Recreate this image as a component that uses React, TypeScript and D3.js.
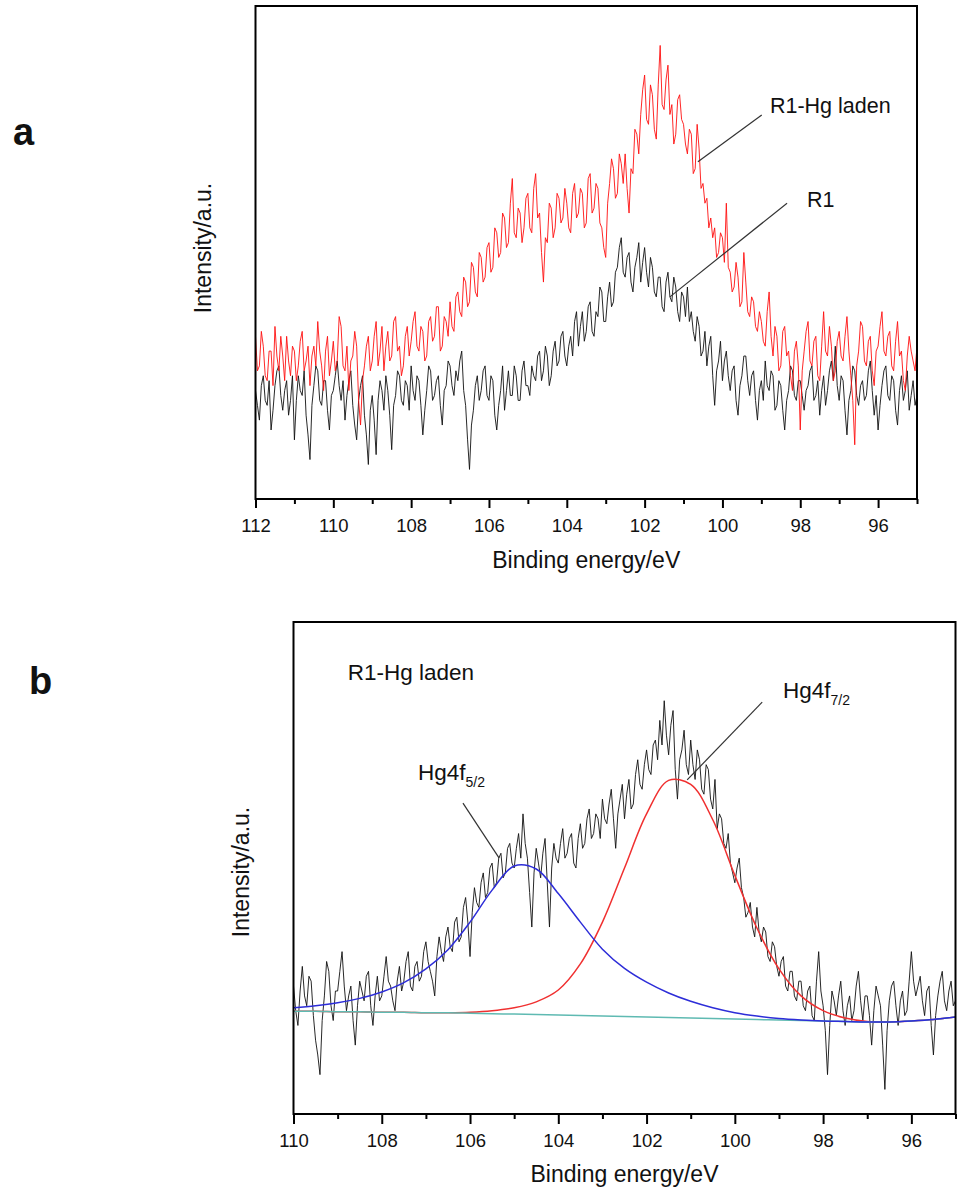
import React, { useEffect, useRef } from 'react'
import * as d3 from 'd3'

const FONT = '"Liberation Sans", Arial, sans-serif'

// ---- panel a : 112 -> 95 eV, 0.05 eV step
const energyA = d3.range(0, 341).map(i => +(112 - i * 0.05).toFixed(2))

const hgLaden = [
  33, 26, 27, 34, 31, 25, 24, 30, 30, 23, 35, 29, 26, 33, 29, 24, 33, 28, 25, 31,
  30, 24, 27, 32, 34, 26, 28, 31, 23, 29, 31, 27, 36, 30, 27, 22, 30, 33, 25, 28,
  32, 26, 28, 37, 35, 27, 26, 31, 22, 28, 29, 34, 31, 20, 15, 24, 27, 31, 33, 26,
  28, 33, 36, 27, 30, 35, 26, 31, 34, 28, 29, 36, 37, 30, 31, 25, 27, 33, 35, 29,
  32, 36, 38, 31, 30, 35, 34, 28, 29, 36, 37, 32, 33, 39, 39, 30, 31, 37, 36, 33,
  40, 35, 34, 41, 42, 38, 37, 45, 44, 39, 40, 48, 47, 42, 41, 50, 49, 44, 45, 51,
  52, 46, 47, 55, 54, 49, 50, 58, 57, 51, 52, 60, 65, 54, 53, 59, 58, 52, 55, 61,
  62, 55, 54, 63, 66, 57, 58, 50, 44, 53, 52, 60, 59, 53, 55, 62, 61, 56, 57, 63,
  60, 55, 54, 62, 64, 57, 58, 63, 62, 55, 56, 65, 66, 58, 59, 64, 63, 56, 55, 51,
  49, 60, 64, 69, 67, 61, 62, 70, 68, 64, 70, 63, 58, 67, 66, 75, 74, 70, 78, 83,
  86, 77, 76, 84, 82, 75, 73, 84, 92, 80, 79, 85, 88, 78, 80, 72, 74, 81, 82, 77,
  76, 72, 70, 75, 74, 66, 67, 76, 71, 63, 64, 60, 61, 55, 57, 53, 55, 49, 50, 54,
  53, 48, 60, 47, 46, 42, 43, 48, 45, 39, 40, 50, 44, 38, 37, 41, 40, 35, 34, 38,
  36, 32, 31, 38, 42, 33, 29, 35, 33, 26, 27, 34, 35, 29, 30, 25, 22, 30, 32, 27,
  14, 26, 30, 34, 36, 28, 27, 32, 33, 25, 24, 31, 38, 30, 29, 35, 31, 24, 26, 32,
  34, 29, 28, 33, 37, 30, 25, 20, 11, 27, 30, 36, 35, 28, 27, 32, 33, 26, 23, 30,
  31, 35, 38, 30, 29, 33, 34, 27, 26, 32, 36, 29, 30, 24, 22, 29, 33, 30, 28, 26,
  31,
]

const r1 = [
  22, 19, 16, 23, 25, 20, 19, 24, 14, 18, 23, 26, 27, 21, 18, 22, 24, 17, 20, 25,
  12, 20, 25, 22, 21, 26, 17, 13, 8, 19, 23, 27, 26, 20, 19, 24, 24, 18, 14, 21,
  22, 25, 28, 23, 20, 24, 16, 21, 24, 26, 19, 15, 12, 20, 23, 25, 17, 13, 7, 18,
  21, 16, 9, 20, 24, 22, 18, 25, 22, 17, 10, 19, 21, 26, 25, 20, 19, 24, 23, 18,
  27, 22, 20, 25, 24, 19, 13, 18, 22, 27, 26, 20, 21, 24, 25, 19, 15, 22, 23, 28,
  27, 23, 21, 26, 24, 28, 30, 22, 19, 12, 6, 15, 18, 23, 25, 20, 22, 26, 27, 21,
  20, 25, 24, 17, 14, 19, 22, 27, 18, 22, 26, 21, 21, 27, 25, 20, 20, 26, 28, 23,
  23, 21, 27, 25, 24, 29, 30, 24, 26, 31, 29, 23, 25, 30, 32, 27, 28, 33, 34, 29,
  27, 31, 33, 29, 36, 38, 31, 35, 38, 32, 34, 39, 40, 34, 33, 38, 37, 43, 42, 36,
  36, 41, 44, 39, 40, 46, 47, 51, 53, 46, 45, 49, 50, 44, 42, 47, 49, 52, 44, 48,
  51, 46, 43, 49, 47, 42, 41, 45, 45, 39, 38, 44, 46, 41, 40, 45, 43, 38, 36, 42,
  41, 37, 43, 36, 38, 34, 32, 37, 35, 29, 30, 34, 27, 31, 33, 25, 19, 26, 28, 32,
  24, 28, 30, 25, 22, 26, 27, 20, 17, 23, 25, 29, 29, 24, 21, 25, 26, 20, 16, 22,
  24, 20, 28, 23, 22, 26, 25, 18, 19, 24, 23, 18, 14, 20, 22, 27, 26, 21, 20, 24,
  24, 21, 18, 22, 23, 26, 27, 20, 21, 24, 17, 22, 25, 19, 22, 26, 28, 24, 31, 23,
  20, 25, 24, 18, 13, 20, 22, 27, 26, 21, 19, 23, 24, 20, 21, 26, 28, 22, 17, 21,
  14, 19, 23, 26, 27, 21, 20, 25, 24, 18, 15, 22, 25, 20, 22, 26, 18, 21, 24, 19,
  21,
]

// ---- panel b : Hg 4f fit, 110 -> 95 eV
const energyB = d3.range(0, 301).map(i => +(110 - i * 0.05).toFixed(2))

const hgLadenB = [
  26, 21, 18, 25, 30, 24, 22, 28, 27, 20, 15, 12, 8, 19, 24, 31, 29, 22, 19, 25,
  25, 29, 33, 26, 21, 24, 26, 19, 14, 22, 27, 25, 23, 28, 29, 22, 18, 24, 28, 23,
  24, 28, 32, 27, 26, 23, 21, 27, 30, 25, 27, 31, 33, 26, 25, 30, 31, 27, 28, 33,
  35, 31, 29, 27, 24, 32, 36, 33, 31, 36, 38, 34, 33, 39, 40, 35, 36, 42, 44, 39,
  32, 41, 46, 43, 42, 47, 49, 44, 45, 50, 51, 46, 47, 52, 53, 48, 49, 54, 55, 51,
  50, 54, 57, 52, 61, 55, 52, 45, 38, 49, 54, 51, 48, 53, 56, 47, 38, 50, 55, 52,
  51, 55, 58, 52, 53, 56, 57, 51, 50, 56, 59, 54, 55, 60, 62, 56, 57, 61, 60, 56,
  64, 60, 59, 63, 66, 60, 54, 61, 64, 67, 60, 65, 68, 62, 63, 69, 72, 67, 66, 71,
  74, 70, 69, 75, 76, 72, 80, 75, 84, 77, 73, 79, 82, 70, 64, 72, 74, 78, 71, 69,
  76, 71, 68, 74, 72, 66, 65, 71, 70, 64, 62, 68, 58, 61, 60, 55, 54, 57, 51, 49,
  47, 50, 52, 46, 44, 40, 41, 43, 38, 36, 42, 37, 35, 38, 37, 32, 31, 35, 34, 30,
  28, 31, 32, 26, 25, 29, 29, 24, 23, 27, 27, 22, 21, 25, 26, 20, 19, 27, 33, 25,
  22, 17, 8, 18, 25, 23, 20, 24, 27, 21, 18, 22, 24, 19, 21, 26, 29, 23, 19, 24,
  24, 20, 14, 21, 26, 24, 22, 14, 5, 17, 23, 26, 27, 22, 18, 23, 25, 20, 21, 27,
  33, 27, 24, 26, 28, 23, 20, 25, 26, 18, 12, 20, 24, 27, 29, 23, 21, 25, 27, 22,
  23,
]

const fitEnergy = d3.range(0, 31).map(i => 110 - i * 0.5)
const fit52 = [
  21.6, 22.0, 22.6, 23.5, 24.8, 26.7, 29.5, 33.4, 39.0, 45.5,
  50.4, 49.8, 44.8, 39.0, 33.5, 29.6, 26.8, 24.6, 22.9, 21.6,
  20.6, 19.9, 19.4, 19.1, 18.9, 18.8, 18.7, 18.7, 18.9, 19.2, 19.7,
]
const fit72 = [
  20.9, 20.9, 20.8, 20.8, 20.7, 20.7, 20.6, 20.6, 20.7, 21.0,
  21.6, 22.8, 25.2, 30.5, 39.0, 50.0, 61.0, 67.8, 67.0, 59.8,
  48.5, 37.8, 29.5, 24.0, 21.0, 19.5, 18.8, 18.7, 18.9, 19.2, 19.7,
]
const background = [
  20.9, 20.9, 20.8, 20.8, 20.7, 20.7, 20.6, 20.6, 20.5, 20.4,
  20.3, 20.2, 20.1, 20.0, 19.9, 19.8, 19.7, 19.6, 19.5, 19.4,
  19.3, 19.2, 19.1, 19.0, 18.9, 18.8, 18.7, 18.7, 18.9, 19.2, 19.7,
]

const ticksA = [112, 110, 108, 106, 104, 102, 100, 98, 96]
const minorA = [111, 109, 107, 105, 103, 101, 99, 97, 95]
const ticksB = [110, 108, 106, 104, 102, 100, 98, 96]
const minorB = [109, 107, 105, 103, 101, 99, 97, 95]

function frame(svg, x, y, ticks, minor, major, pad) {
  const [x0, x1] = x.range()
  const [yb, yt] = y.range()
  svg.append('rect')
    .attr('x', x0).attr('y', yt)
    .attr('width', x1 - x0).attr('height', yb - yt)
    .attr('fill', 'none').attr('stroke', '#000').attr('stroke-width', 2)

  const ax = svg.append('g').attr('transform', `translate(0,${yb})`)
    .call(d3.axisBottom(x).tickValues(ticks).tickSize(major).tickPadding(pad).tickFormat(d3.format('d')))
  ax.select('.domain').remove()
  ax.selectAll('line').attr('stroke', '#000').attr('stroke-width', 2)
  ax.selectAll('text').attr('font-family', FONT).attr('font-size', 18.5).attr('fill', '#111')

  const mn = svg.append('g').attr('transform', `translate(0,${yb})`)
    .call(d3.axisBottom(x).tickValues(minor).tickSize(5).tickFormat(() => ''))
  mn.select('.domain').remove()
  mn.selectAll('line').attr('stroke', '#000').attr('stroke-width', 2)
}

function text(svg, x, y, s, size, extra = {}) {
  const t = svg.append('text').attr('x', x).attr('y', y)
    .attr('font-family', FONT).attr('font-size', size).attr('fill', '#111').text(s)
  Object.entries(extra).forEach(([k, v]) => t.attr(k, v))
  return t
}

export default function App() {
  const svgRef = useRef(null)

  useEffect(() => {
    const svg = d3.select(svgRef.current)
    svg.selectAll('*').remove()

    // ---------------- panel a
    const xA = d3.scaleLinear().domain([112, 95]).range([255.5, 917])
    const yA = d3.scaleLinear().domain([0, 100]).range([499, 6])
    const lineA = d3.line().x(d => xA(d[0])).y(d => yA(d[1]))

    svg.append('path').datum(d3.zip(energyA, r1)).attr('d', lineA)
      .attr('fill', 'none').attr('stroke', '#111').attr('stroke-width', 0.9)
    svg.append('path').datum(d3.zip(energyA, hgLaden)).attr('d', lineA)
      .attr('fill', 'none').attr('stroke', '#ff1010').attr('stroke-width', 0.9)

    frame(svg, xA, yA, ticksA, minorA, 9, 10.5)

    svg.append('line')
      .attr('x1', xA(98.99)).attr('y1', yA(77.9)).attr('x2', xA(100.63)).attr('y2', yA(68.4))
      .attr('stroke', '#333').attr('stroke-width', 1.2)
    svg.append('line')
      .attr('x1', xA(98.34)).attr('y1', yA(60.0)).attr('x2', xA(101.35)).attr('y2', yA(41.0))
      .attr('stroke', '#333').attr('stroke-width', 1.2)
    text(svg, xA(98.78), yA(78.3), 'R1-Hg laden', 21.5)
    text(svg, xA(97.83), yA(59.2), 'R1', 21.5)

    text(svg, 13, 145, 'a', 38, { 'font-weight': 700 })
    text(svg, 0, 0, 'Intensity/a.u.', 23, { 'text-anchor': 'middle', transform: 'translate(210.5,248) rotate(-90)' })
    text(svg, (xA.range()[0] + xA.range()[1]) / 2, 568, 'Binding energy/eV', 23, { 'text-anchor': 'middle' })

    // ---------------- panel b
    const xB = d3.scaleLinear().domain([110, 95]).range([293.5, 955.5])
    const yB = d3.scaleLinear().domain([0, 100]).range([1114, 622])
    const lineB = d3.line().x(d => xB(d[0])).y(d => yB(d[1]))
    const smoothB = d3.line().x(d => xB(d[0])).y(d => yB(d[1])).curve(d3.curveCatmullRom)

    svg.append('path').datum(d3.zip(energyB, hgLadenB)).attr('d', lineB)
      .attr('fill', 'none').attr('stroke', '#111').attr('stroke-width', 0.9)
    svg.append('path').datum(d3.zip(fitEnergy, fit72)).attr('d', smoothB)
      .attr('fill', 'none').attr('stroke', '#f03030').attr('stroke-width', 1.5)
    svg.append('path').datum(d3.zip(fitEnergy, background)).attr('d', smoothB)
      .attr('fill', 'none').attr('stroke', '#5fbab2').attr('stroke-width', 1.5)
    svg.append('path').datum(d3.zip(fitEnergy, fit52)).attr('d', smoothB)
      .attr('fill', 'none').attr('stroke', '#2d2dd8').attr('stroke-width', 1.5)

    frame(svg, xB, yB, ticksB, minorB, 10, 10)

    text(svg, xB(108.77), yB(88.2), 'R1-Hg laden', 22.5)

    const l52 = text(svg, xB(107.18), yB(67.9), 'Hg4f', 22.5)
    l52.append('tspan').attr('font-size', 14).attr('dy', 7).text('5/2')
    svg.append('line')
      .attr('x1', xB(106.16)).attr('y1', yB(63.2)).attr('x2', xB(105.34)).attr('y2', yB(52.0))
      .attr('stroke', '#333').attr('stroke-width', 1.2)

    const l72 = text(svg, xB(98.91), yB(84.6), 'Hg4f', 22.5)
    l72.append('tspan').attr('font-size', 14).attr('dy', 7).text('7/2')
    svg.append('line')
      .attr('x1', xB(99.38)).attr('y1', yB(83.7)).attr('x2', xB(101.08)).attr('y2', yB(67.9))
      .attr('stroke', '#333').attr('stroke-width', 1.2)

    text(svg, 29, 694, 'b', 38, { 'font-weight': 700 })
    text(svg, 0, 0, 'Intensity/a.u.', 23, { 'text-anchor': 'middle', transform: 'translate(249,872) rotate(-90)' })
    text(svg, (xB.range()[0] + xB.range()[1]) / 2, 1182, 'Binding energy/eV', 23, { 'text-anchor': 'middle' })
  }, [])

  return (
    <svg ref={svgRef} width={959} height={1189}
      style={{ position: 'absolute', left: 0, top: 0, background: '#fff' }} />
  )
}
